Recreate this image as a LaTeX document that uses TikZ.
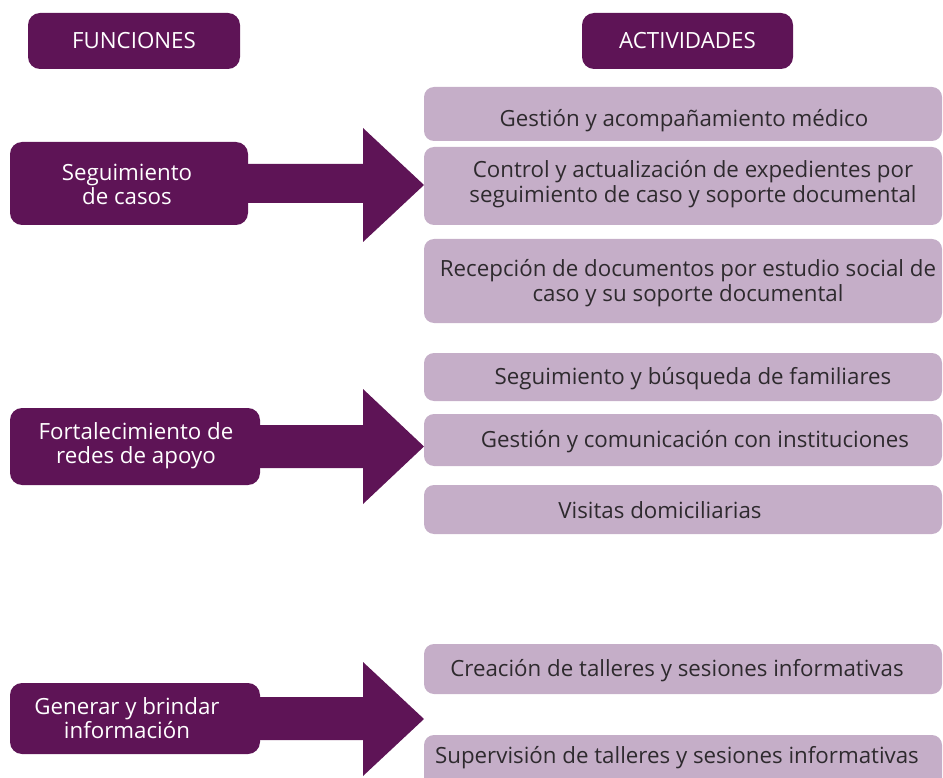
\documentclass[tikz,border=0pt]{standalone}
\usepackage{fontspec}
\setmainfont{Open Sans}
\usetikzlibrary{calc}
\definecolor{dark}{HTML}{5E1456}
\definecolor{light}{HTML}{C5AEC8}
\definecolor{txt}{HTML}{2E2A2E}
\tikzset{
  headbox/.style={fill=dark, rounded corners=12pt, text=white, font=\fontsize{22.3}{25}\selectfont, inner sep=0pt},
  funcbox/.style={fill=dark, rounded corners=12pt, text=white, font=\fontsize{22.3}{24}\selectfont, align=center, inner sep=0pt},
  actbox/.style={fill=light, rounded corners=10pt, inner sep=0pt, minimum width=518pt},
  acttext/.style={text=txt, font=\fontsize{22.3}{24.5}\selectfont, align=center, inner sep=0pt},
  arrowfill/.style={fill=dark}
}
\begin{document}
\begin{tikzpicture}[x=1pt,y=-1pt]
\useasboundingbox (0,0) rectangle (943,778);
\clip (0,0) rectangle (943,778);
% headers
\node[headbox, minimum width=212pt, minimum height=56pt] (hf) at (134,41) {FUNCIONES};
\node[headbox, minimum width=211pt, minimum height=56pt] (ha) at (687.5,41) {ACTIVIDADES};
% function boxes
\node[funcbox, minimum width=238pt, minimum height=83pt] (f1) at (129,183.5) {};
\node[funcbox] (f1t) at (127,184) {Seguimiento\\de casos};
\node[funcbox, minimum width=250pt, minimum height=77pt] (f2) at (135,446.5) {};
\node[funcbox] (f2t) at (136,446) {Fortalecimiento de\\redes de apoyo};
\node[funcbox, minimum width=250pt, minimum height=71pt] (f3) at (135,718.5) {};
\node[funcbox] (f3t) at (127,718) {Generar y brindar\\información};
% activity boxes
\node[actbox, minimum height=54pt] (a1) at (683,114) {};
\node[actbox, minimum height=78pt] (a2) at (683,186) {};
\node[actbox, minimum height=84pt] (a3) at (683,281) {};
\node[actbox, minimum height=48pt] (a4) at (683,377) {};
\node[actbox, minimum height=52pt] (a5) at (683,440) {};
\node[actbox, minimum height=49pt] (a6) at (683,509.5) {};
\node[actbox, minimum height=50pt] (a7) at (683,669) {};
\node[actbox, minimum height=56pt] (a8) at (683,763) {};
\node[acttext] (t1) at (684,121) {Gestión y acompañamiento médico};
\node[acttext] (t2) at (693,184) {Control y actualización de expedientes por\\seguimiento de caso y soporte documental};
\node[acttext] (t3) at (688,283) {Recepción de documentos por estudio social de\\caso y su soporte documental};
\node[acttext] (t4) at (693,379) {Seguimiento y búsqueda de familiares};
\node[acttext] (t5) at (695,442) {Gestión y comunicación con instituciones};
\node[acttext] (t6) at (660,510) {Visitas domiciliarias};
\node[acttext] (t7) at (677,671) {Creación de talleres y sesiones informativas};
\node[acttext] (t8) at (677,758) {Supervisión de talleres y sesiones informativas};
% arrows
\coordinate (p1) at (424,185);
\coordinate (p2) at (424,446.5);
\coordinate (p3) at (424,719);
\fill[arrowfill] ($(f1.east)+(-2,-19.5)$) -- (363,164) -- (363,128) -- (p1) -- (363,242) -- (363,203) -- ($(f1.east)+(-2,19.5)$) -- cycle;
\fill[arrowfill] ($(f2.east)+(-2,-21.5)$) -- (363,425) -- (363,389) -- (p2) -- (363,504) -- (363,468) -- ($(f2.east)+(-2,21.5)$) -- cycle;
\fill[arrowfill] ($(f3.east)+(-2,-21.5)$) -- (363,697) -- (363,662) -- (p3) -- (363,776) -- (363,740) -- ($(f3.east)+(-2,21.5)$) -- cycle;
\end{tikzpicture}
\end{document}
